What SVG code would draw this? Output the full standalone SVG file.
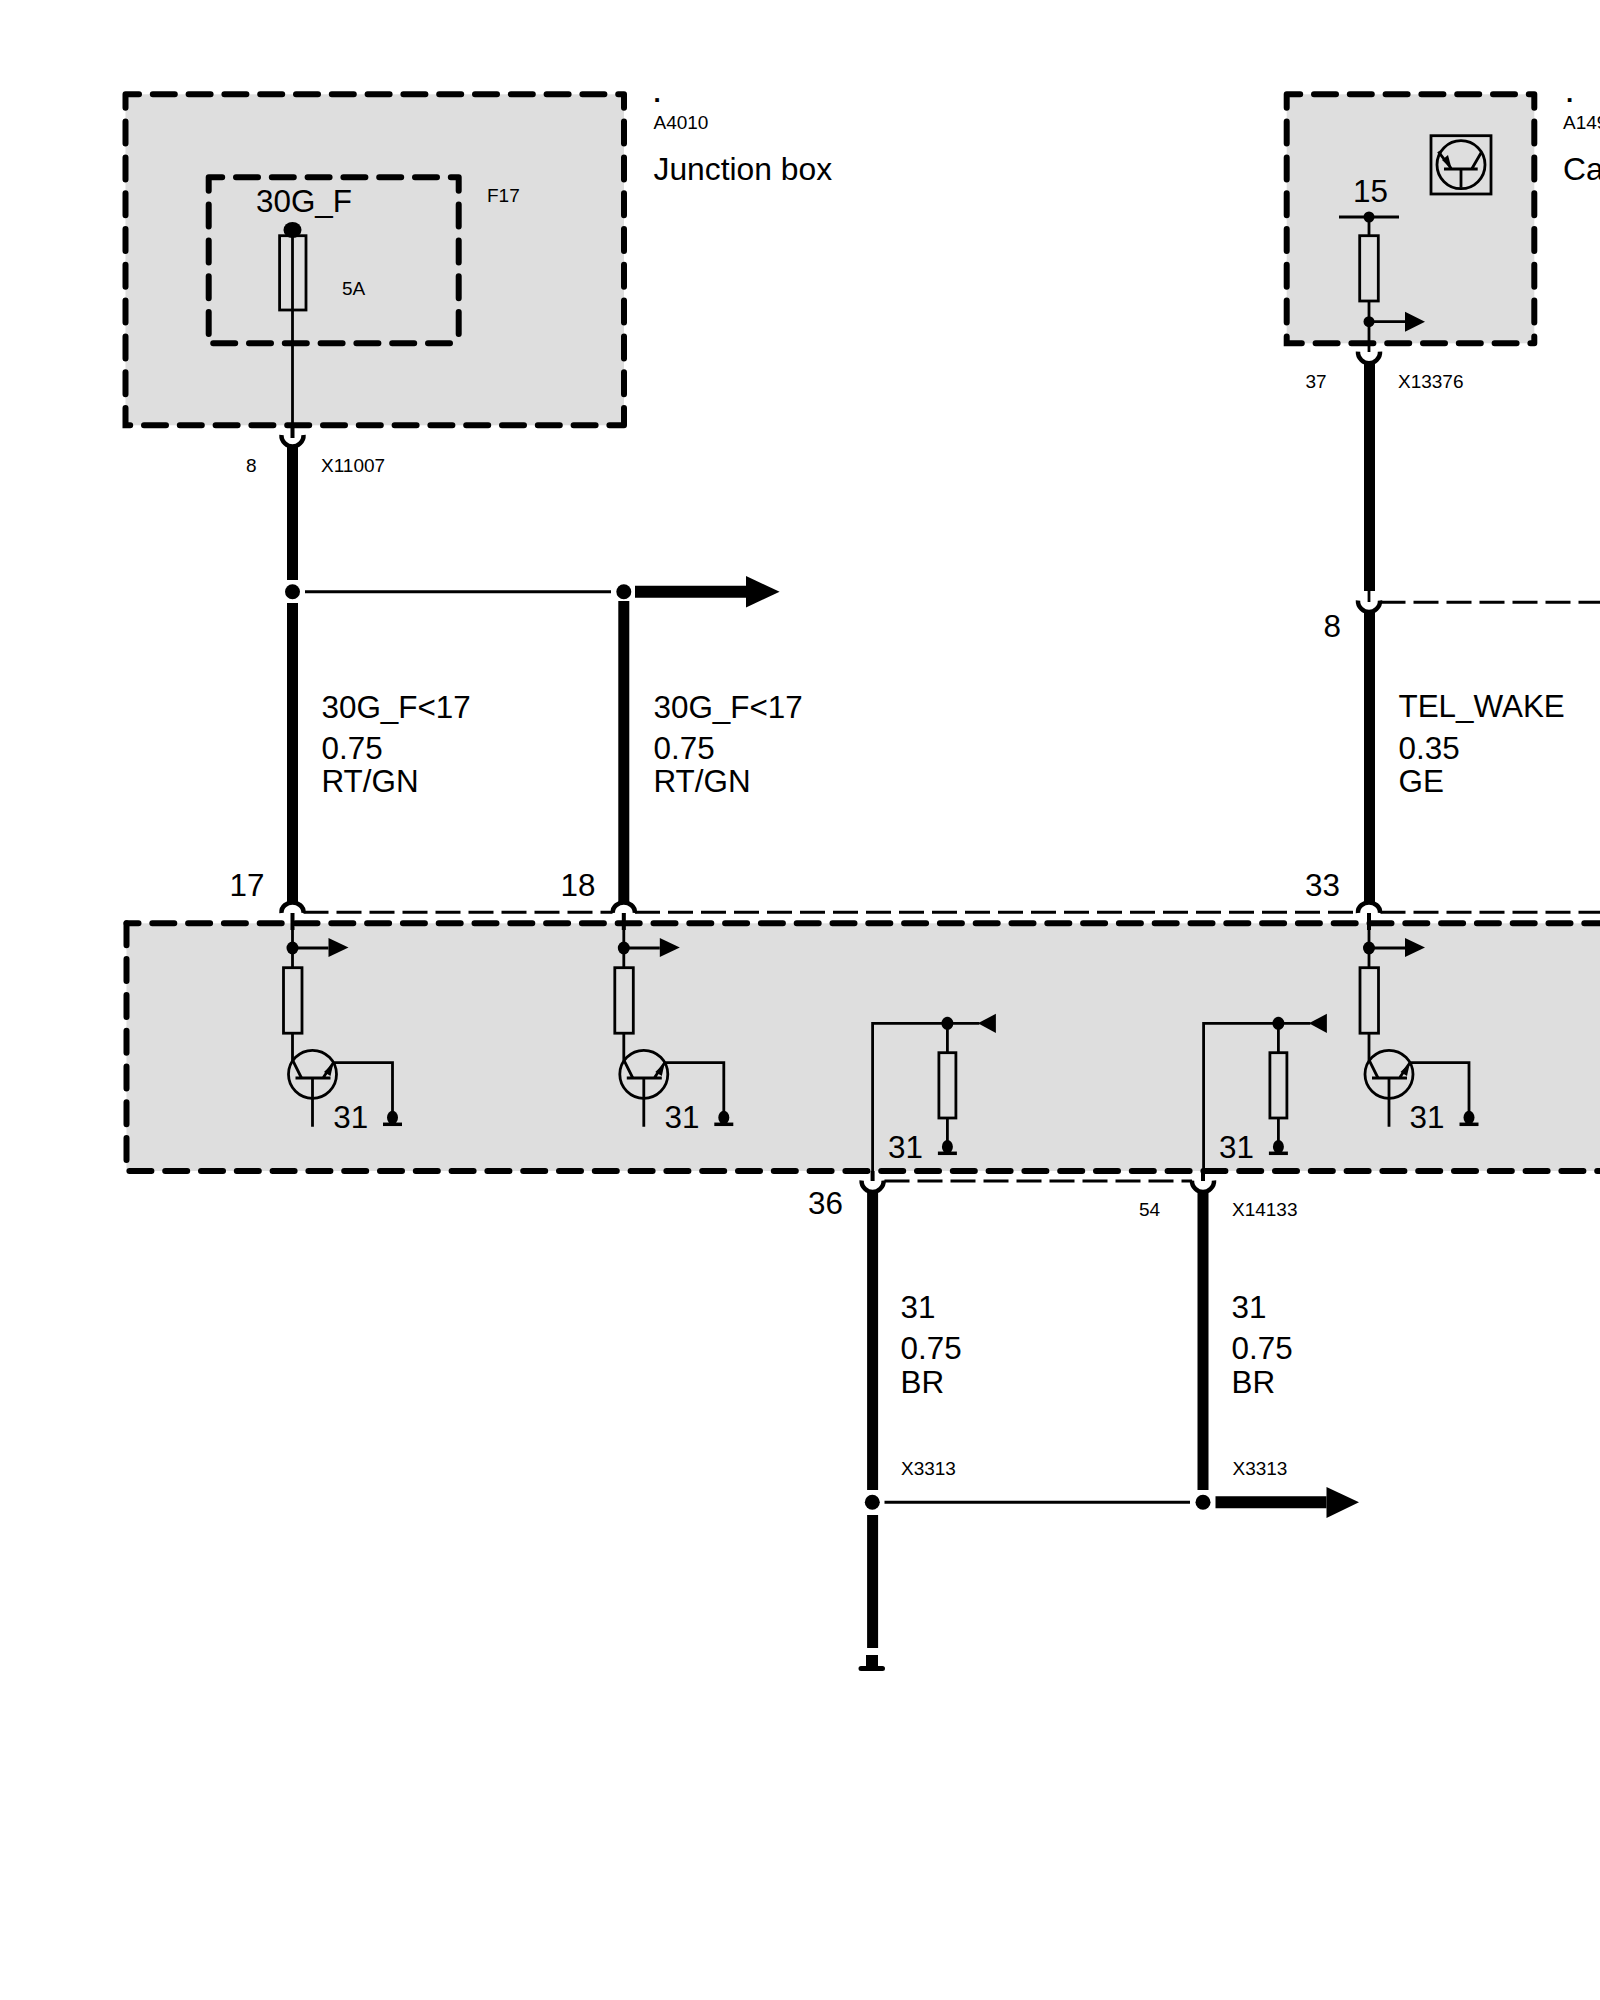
<svg xmlns="http://www.w3.org/2000/svg" xmlns:xlink="http://www.w3.org/1999/xlink" width="1600" height="2000" viewBox="0 0 1600 2000">
<style>
text{font-family:"Liberation Sans",Arial,sans-serif;fill:#000}
.s{font-size:19px}.m{font-size:31.400px}.t{font-size:31.800px}.d{font-size:26px;font-weight:bold}
.fill{fill:#dedede;stroke:none}
.box{fill:none;stroke:#000;stroke-width:6;stroke-linecap:round;stroke-dasharray:22 13.800}
.thin{fill:none;stroke:#000;stroke-width:2.800}
.comp{fill:none;stroke:#000;stroke-width:2.800}
.wire{fill:none;stroke:#000;stroke-width:11}
.bus{fill:none;stroke:#000;stroke-width:3;stroke-dasharray:25 8}
.cup{fill:none;stroke:#000;stroke-width:4.500}
.blk{fill:#000;stroke:none}
</style>
<defs>
<path id="cup" class="cup" d="M-11 0C-11.500 7-5 11.500 0 11.500C5 11.500 11.500 7 11 0"/>
<path id="cap" class="cup" d="M-11 11C-11.500 4-5 .5 0 .5C5 .5 11.500 4 11 11"/>
<g id="drv">
<path class="thin" d="M0 913V967M0 948H36M0 1033V1060L9 1078"/>
<path fill="none" stroke="#000" stroke-width="4" d="M0 913V930"/>
<ellipse class="blk" cx="0" cy="948" rx="6" ry="6.500"/>
<polygon class="blk" points="36,938 36,957 56,947.500"/>
<rect class="comp" x="-9" y="967.700" width="18.500" height="65.500"/>
<circle class="comp" cx="20" cy="1074.300" r="24"/>
<path class="thin" d="M3 1078H38M20 1078V1126.700M30.400 1078L41 1062.700H100V1117"/>
<path fill="none" stroke="#000" stroke-width="3.500" d="M90.500 1124.300H109.500"/>
<polygon class="blk" points="41,1062.700 31.500,1072 38,1076"/>
<ellipse class="blk" cx="100" cy="1117.500" rx="5.500" ry="6.800"/>
</g>
<g id="pull">
<path class="thin" d="M-74.800 1171V1023.300H32M0 1023.300V1053M0 1118V1146.700"/>
<path fill="none" stroke="#000" stroke-width="3.500" d="M-9.500 1153.300H9.500"/>
<ellipse class="blk" cx="0" cy="1023.300" rx="6" ry="6.500"/>
<polygon class="blk" points="30.500,1023.300 48.500,1013.800 48.500,1033"/>
<rect class="comp" x="-8.500" y="1052.700" width="17" height="65.300"/>
<ellipse class="blk" cx="0" cy="1146.700" rx="5.500" ry="6.800"/>
</g>
</defs>

<rect width="1600" height="2000" fill="#fff"/>

<g id="module-a4010">
<rect class="fill" x="125.500" y="94.300" width="498.500" height="331"/>
<path class="box" stroke-dashoffset="8.500" d="M125.500 94.300H624M125.500 94.300V425.300H624M624 94.300V425.300"/>
<text class="d" x="653.500" y="101.700">.</text>
<text class="s" x="653.500" y="129">A4010</text>
<text class="t" x="653.500" y="180">Junction box</text>
</g>

<g id="fuse-f17">
<path class="box" stroke-dashoffset="8.500" d="M208.700 177.300H458.700M208.700 177.300V343.300H458.700M458.700 177.300V343.300"/>
<text class="m" x="256" y="212.300">30G_F</text>
<text class="s" x="487" y="202">F17</text>
<text class="s" x="342" y="295">5A</text>
<ellipse class="blk" cx="292.500" cy="230" rx="9" ry="8"/>
<rect class="comp" x="279.600" y="235.700" width="26.400" height="74.300"/>
<path class="thin" d="M292.500 230V425"/>
</g>

<g id="module-a149">
<rect class="fill" x="1286.700" y="94.300" width="247.600" height="249"/>
<path class="box" stroke-dashoffset="8.500" d="M1286.700 94.300H1534.300M1286.700 94.300V343.300H1534.300M1534.300 94.300V343.300"/>
<text class="d" x="1566" y="101.700">.</text>
<text class="s" x="1563" y="129">A149</text>
<text class="t" x="1563" y="180">Ca</text>
<rect class="comp" x="1431" y="135.700" width="60" height="58.300"/>
<circle class="comp" cx="1461" cy="164.700" r="24"/>
<path class="thin" d="M1444 169H1477.700M1461 169V187.700M1438.300 151.700L1451.700 169M1471.700 169L1481.700 151.700"/>
<polygon class="blk" points="1451.700,169 1442,160 1448,155"/>
<text class="m" x="1353" y="202.300">15</text>
<path class="thin" d="M1339 217H1399M1369 217V236M1369 301V352M1369 321.700H1405"/>
<circle class="blk" cx="1369" cy="217" r="5.500"/>
<rect class="comp" x="1359.700" y="235.700" width="18.600" height="65.300"/>
<circle class="blk" cx="1369" cy="321.700" r="5.500"/>
<polygon class="blk" points="1405,311.700 1405,331.700 1425,321.700"/>
</g>

<g id="control-unit">
<rect class="fill" x="126.500" y="923.300" width="1473.500" height="247.700"/>
<path class="box" stroke-dashoffset="10" d="M126.500 923.300H1600"/>
<path class="box" d="M126.500 923.300V1171H1600"/>
</g>
<g id="pin-17"><use xlink:href="#drv" href="#drv" x="292.500"/><text class="m" x="229.500" y="895.700">17</text><text class="m" x="333.300" y="1128">31</text></g>
<g id="pin-18"><use xlink:href="#drv" href="#drv" x="623.800"/><text class="m" x="560.500" y="895.700">18</text><text class="m" x="664.600" y="1128">31</text></g>
<g id="pin-33"><use xlink:href="#drv" href="#drv" x="1369"/><text class="m" x="1305" y="895.700">33</text><text class="m" x="1409.500" y="1128">31</text></g>
<g id="pin-36"><use xlink:href="#pull" href="#pull" x="947.400"/><text class="m" x="888" y="1158.300">31</text><text class="m" x="808" y="1214.300">36</text></g>
<g id="pin-54"><use xlink:href="#pull" href="#pull" x="1278.400"/><text class="m" x="1219" y="1158.300">31</text><text class="s" x="1139" y="1215.700">54</text><text class="s" x="1232" y="1215.700">X14133</text></g>

<g id="connectors">
<path class="bus" d="M303.500 912.300H612.500M635 912.300H1358M1380.500 912.300H1600"/>
<path class="bus" d="M884.500 1181H1192"/>
<path class="bus" d="M1380.500 602.300H1600"/>
<path fill="none" stroke="#000" stroke-width="4" d="M292.500 425V438M872.600 1171V1181M1203 1171V1181"/>
<path class="thin" d="M1369 591V602"/>
<use xlink:href="#cup" href="#cup" x="292.500" y="435"/>
<use xlink:href="#cup" href="#cup" x="1369" y="351.700"/>
<use xlink:href="#cup" href="#cup" x="1369" y="600.500"/>
<use xlink:href="#cup" href="#cup" x="872.600" y="1180.500"/>
<use xlink:href="#cup" href="#cup" x="1203" y="1180.500"/>
<use xlink:href="#cap" href="#cap" x="292.500" y="902"/>
<use xlink:href="#cap" href="#cap" x="623.800" y="902"/>
<use xlink:href="#cap" href="#cap" x="1369" y="902"/>
<path class="wire" d="M292.500 446V580M292.500 603V902.500M623.800 601V902.500M1369.500 362V591M1369.500 611V902.500M872.600 1191V1490M872.600 1515V1648M1203 1191V1490"/>
<path fill="none" stroke="#000" stroke-width="3" d="M305 591.700H611M884.500 1502.300H1190"/>
<path fill="none" stroke="#000" stroke-width="12" d="M635 591.700H746M1215.500 1502.300H1326.500"/>
<circle class="blk" cx="292.500" cy="591.700" r="7.500"/>
<circle class="blk" cx="623.800" cy="591.700" r="7.500"/>
<circle class="blk" cx="872.300" cy="1502.300" r="7.500"/>
<circle class="blk" cx="1203" cy="1502.300" r="7.500"/>
<polygon class="blk" points="746,576 746,607.500 779.600,591.700"/>
<polygon class="blk" points="1326.500,1487 1326.500,1518 1359,1502.300"/>
<path class="blk" d="M866 1655H878V1666H882.500A2.500 2.500 0 0 1 882.500 1671H861A2.500 2.500 0 0 1 861 1666H866Z"/>
</g>

<g id="labels">
<text class="s" x="246" y="471.700">8</text>
<text class="s" x="321" y="471.700">X11007</text>
<text class="s" x="1305.500" y="388">37</text>
<text class="s" x="1398" y="388">X13376</text>
<text class="m" x="321.500" y="718">30G_F&lt;17</text>
<text class="m" x="321.500" y="758.500">0.75</text>
<text class="m" x="321.500" y="791.700">RT/GN</text>
<text class="m" x="653.500" y="718">30G_F&lt;17</text>
<text class="m" x="653.500" y="758.500">0.75</text>
<text class="m" x="653.500" y="791.700">RT/GN</text>
<text class="m" x="1323.500" y="636.700">8</text>
<text class="m" x="1398.500" y="717">TEL_WAKE</text>
<text class="m" x="1398.500" y="758.500">0.35</text>
<text class="m" x="1398.500" y="791.700">GE</text>
<text class="m" x="900.500" y="1318">31</text>
<text class="m" x="900.500" y="1359">0.75</text>
<text class="m" x="900.500" y="1392.500">BR</text>
<text class="m" x="1231.500" y="1318">31</text>
<text class="m" x="1231.500" y="1359">0.75</text>
<text class="m" x="1231.500" y="1392.500">BR</text>
<text class="s" x="901" y="1475">X3313</text>
<text class="s" x="1232.500" y="1475">X3313</text>
</g>
</svg>
